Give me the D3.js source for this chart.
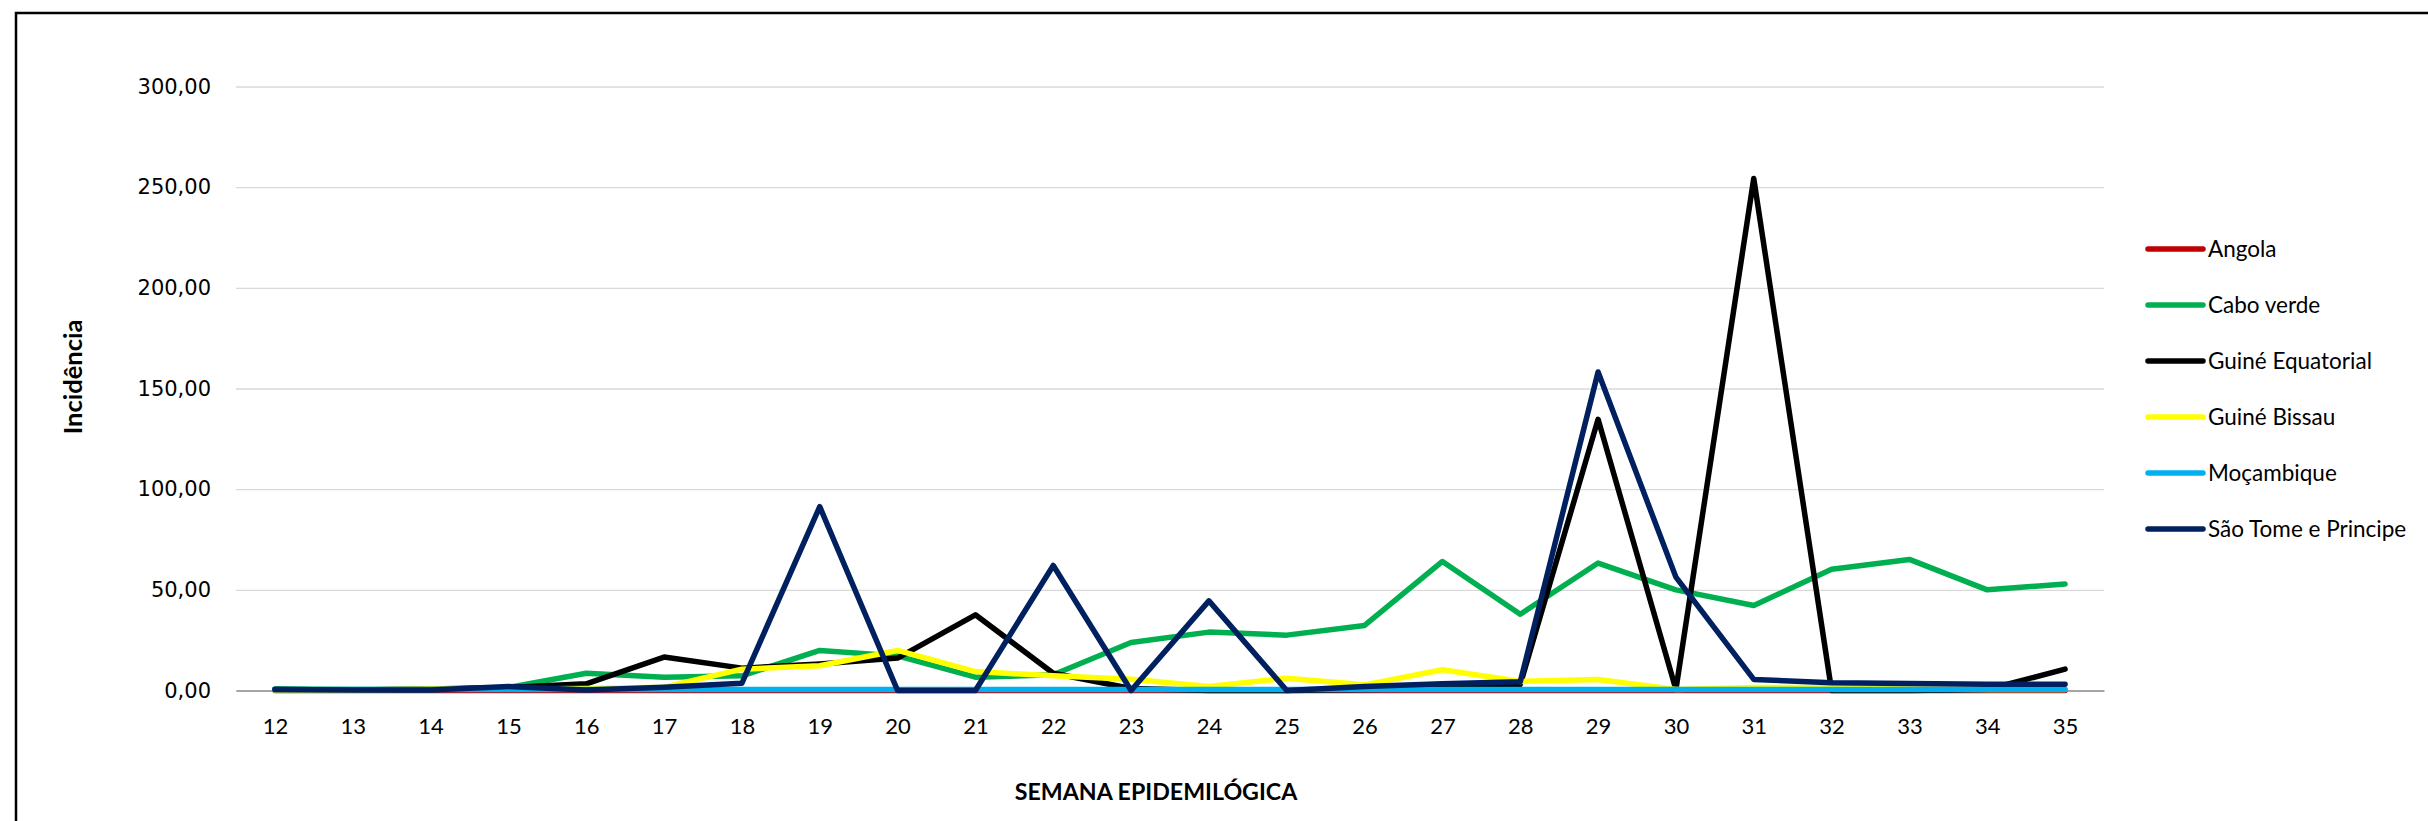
<!DOCTYPE html>
<html>
<head>
<meta charset="utf-8">
<script src="https://cdn.jsdelivr.net/npm/d3@7"></script>
<style>
  body { margin: 0; background: #fff; }
</style>
</head>
<body>
<script>
(function () {

    var w = 2428;
    var h = 821;

    // weeks on the x axis
    var weeks = ["12", "13", "14", "15", "16", "17", "18", "19", "20", "21", "22", "23",
                 "24", "25", "26", "27", "28", "29", "30", "31", "32", "33", "34", "35"];

    var yTicks = [0, 50, 100, 150, 200, 250, 300];

    var angola     = [0, 0, 0, 0, 0, 0, 0, 0, 0, 0, 0, 0, 0, 0, 0, 0, 0, 0, 0, 0, 0, 0, 0, 0];
    var caboVerde  = [0.8, 0.5, 0.5, 1.5, 8.6, 6.6, 7.3, 19.9, 17.2, 6.6, 7.8, 23.8,
                      29.0, 27.5, 32.3, 64.1, 37.9, 63.3, 50.0, 42.2, 60.2, 65.1, 50.0, 52.9];
    var guineEq    = [0.5, 0.3, 0.8, 1.5, 3.3, 16.6, 11.1, 13.2, 16.1, 37.6, 8.6, 1.0,
                      0, 0, 0.5, 1.0, 3.0, 134.7, 0.5, 254.3, 0, 0, 0.5, 10.6];
    var guineBis   = [0.3, 0.3, 0.8, 0.8, 1.0, 1.6, 10.6, 12.3, 19.9, 9.4, 7.3, 5.6,
                      2.0, 6.1, 2.8, 10.3, 4.5, 5.5, 0.5, 1.5, 1.5, 0.8, 0.5, 0.5];
    var mocambique = [0.5, 0.5, 0.5, 0.5, 0.5, 0.5, 0.5, 0.5, 0.5, 0.5, 0.5, 0.5,
                      0.5, 0.5, 0.5, 0.5, 0.5, 0.5, 0.5, 0.5, 0.5, 0.5, 0.5, 0.5];
    var saoTome    = [0.5, 0.3, 0.3, 2.0, 0.3, 1.6, 3.6, 91.3, 0, 0, 62.1, 0,
                      44.5, 0, 2.0, 3.3, 4.3, 158.2, 56.3, 5.5, 3.9, 3.5, 3.1, 3.1];

    var seriesNames  = ["Angola", "Cabo verde", "Guiné Equatorial", "Guiné Bissau", "Moçambique", "São Tome e Principe"];
    var seriesValues = [angola, caboVerde, guineEq, guineBis, mocambique, saoTome];
    var seriesColors = ["#c00000", "#00b050", "#000000", "#ffff00", "#00b0f0", "#002060"];

    var left = 236, right = 2104, top = 86.5, bottom = 690.5;

    var svg = d3.select("body").append("svg")
        .attr("width", w)
        .attr("height", h);

    svg.append("rect")
        .attr("width", w)
        .attr("height", h)
        .attr("fill", "#fff");

    // frame (top and left only visible in the picture)
    svg.append("path")
        .attr("d", "M16," + h + "V13H" + w)
        .attr("fill", "none")
        .attr("stroke", "#000")
        .attr("stroke-width", 2.5);

    var x = d3.scalePoint()
        .domain(weeks)
        .range([left, right])
        .padding(0.5);

    var y = d3.scaleLinear()
        .domain([0, 300])
        .range([bottom, top]);

    // y axis with gridlines
    var yAxis = svg.append("g")
        .attr("transform", "translate(" + left + ",0)")
        .call(d3.axisLeft(y)
            .tickValues(yTicks)
            .tickSize(-(right - left))
            .tickPadding(25)
            .tickFormat(function (d) { return d3.format(".2f")(d).replace(".", ","); }));
    yAxis.select(".domain").remove();
    yAxis.selectAll("line")
        .attr("stroke", "#d9d9d9")
        .attr("stroke-width", 1.3);
    yAxis.selectAll("text")
        .attr("font-family", "DejaVu Sans")
        .attr("font-size", 21)
        .attr("fill", "#000");

    // x axis
    var xAxis = svg.append("g")
        .attr("transform", "translate(0," + bottom + ")")
        .call(d3.axisBottom(x).tickSize(0).tickSizeOuter(0).tickPadding(28));
    xAxis.select(".domain")
        .attr("stroke", "#a6a6a6")
        .attr("stroke-width", 1.8);
    xAxis.selectAll("text")
        .attr("font-family", "Lato")
        .attr("font-size", 22)
        .attr("fill", "#000");

    var line = d3.line()
        .x(function (d, i) { return x(weeks[i]); })
        .y(function (d) { return y(d); });

    svg.selectAll("path.serie")
        .data(seriesValues)
        .enter()
        .append("path")
        .attr("class", "serie")
        .attr("d", function (d) { return line(d); })
        .attr("fill", "none")
        .attr("stroke", function (d, i) { return seriesColors[i]; })
        .attr("stroke-width", 5.5)
        .attr("stroke-linejoin", "round")
        .attr("stroke-linecap", "round");

    // axis titles
    svg.append("text")
        .text("Incidência")
        .attr("transform", "translate(73,377) rotate(-90)")
        .attr("text-anchor", "middle")
        .attr("dy", "0.35em")
        .attr("font-family", "Lato")
        .attr("font-weight", "bold")
        .attr("font-size", 25.5)
        .attr("fill", "#000");

    svg.append("text")
        .text("SEMANA EPIDEMILÓGICA")
        .attr("x", 1156)
        .attr("y", 792)
        .attr("text-anchor", "middle")
        .attr("dy", "0.35em")
        .attr("font-family", "Lato")
        .attr("font-weight", "bold")
        .attr("font-size", 23.2)
        .attr("fill", "#000");

    // legend
    var legend = svg.selectAll("g.legend")
        .data(seriesNames)
        .enter()
        .append("g")
        .attr("class", "legend")
        .attr("transform", function (d, i) { return "translate(2148," + (249 + i * 56) + ")"; });

    legend.append("line")
        .attr("x1", 0)
        .attr("x2", 55)
        .attr("stroke", function (d, i) { return seriesColors[i]; })
        .attr("stroke-width", 5.5)
        .attr("stroke-linecap", "round");

    legend.append("text")
        .text(function (d) { return d; })
        .attr("x", 60)
        .attr("dy", "0.35em")
        .attr("font-family", "Lato")
        .attr("font-size", 22.5)
        .attr("fill", "#000");
})();
</script>
</body>
</html>
